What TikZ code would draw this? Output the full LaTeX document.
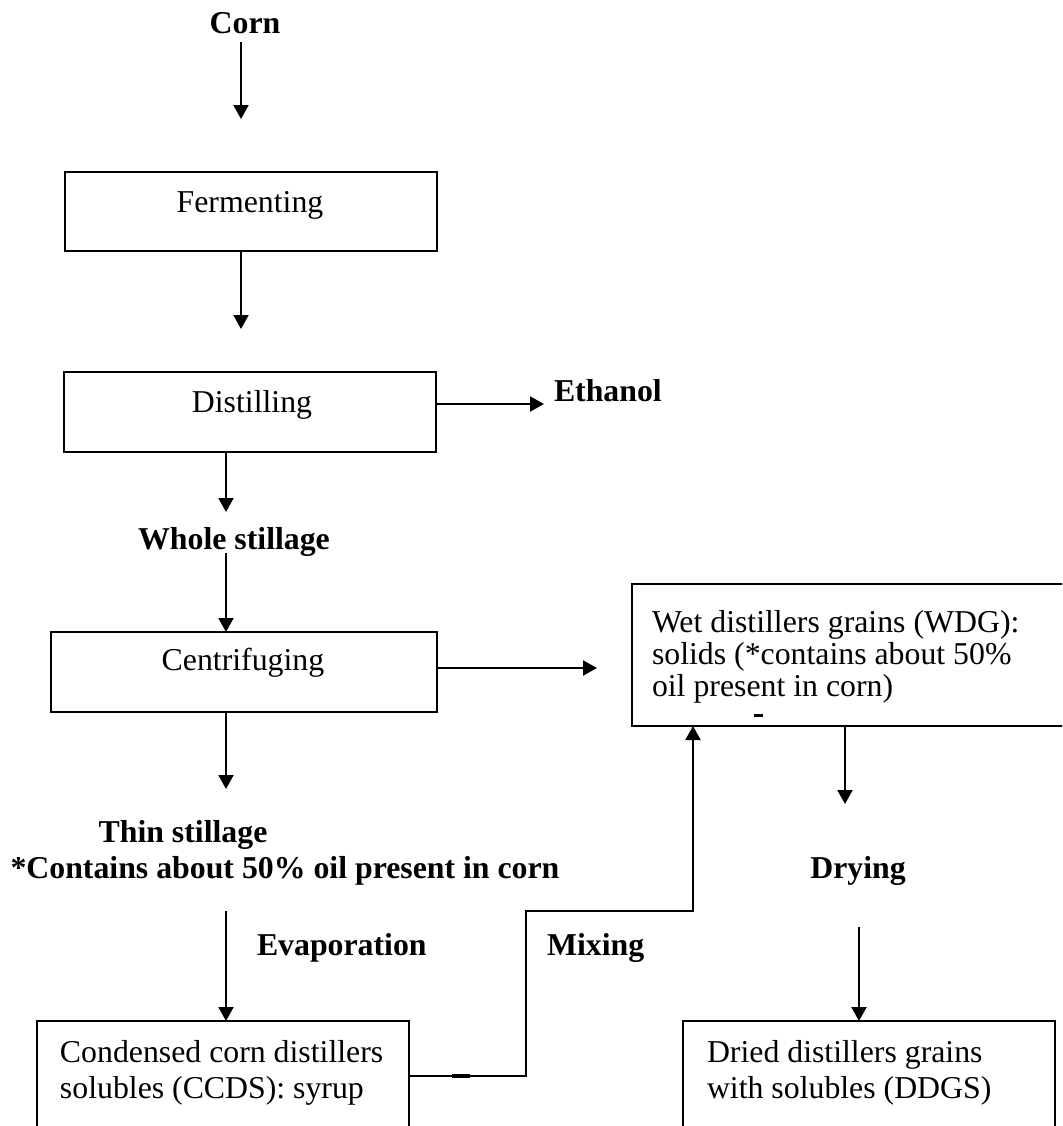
\documentclass[tikz,border=0pt]{standalone}
\usepackage{fontspec}
\setmainfont{Liberation Serif}
\usetikzlibrary{arrows.meta}
\tikzset{
  stepbox/.style={draw, line width=1pt, inner sep=0pt, outer sep=0pt, anchor=north west},
  txt/.style={inner sep=0pt, outer sep=0pt, font=\fontsize{15.9pt}{18pt}\selectfont},
  btxt/.style={inner sep=0pt, outer sep=0pt, font=\fontsize{15.9pt}{18pt}\selectfont\bfseries},
  arr/.style={line width=1pt, -{Triangle[length=7pt,width=7.5pt]}},
  ln/.style={line width=1pt},
}
\begin{document}
\begin{tikzpicture}[x=0.5pt,y=-0.5pt]
\useasboundingbox (0,0) rectangle (1062,1126);
\clip (0,0) rectangle (1062,1126);
\fill[white] (0,0) rectangle (1062,1126);

% labels
\node[btxt, anchor=base] (corn) at (245,33) {Corn};
\node[btxt, anchor=base west] (eth) at (554,401) {Ethanol};
\node[btxt, anchor=base] (whole) at (234,549) {Whole stillage};
\node[btxt, anchor=base] (thin) at (183,842) {Thin stillage};
\node[btxt, anchor=base] (oil) at (285,878) {*Contains about 50\% oil present in corn};
\node[btxt, anchor=base] (dry) at (858,878) {Drying};
\node[btxt, anchor=base west] (evap) at (257,955) {Evaporation};
\node[btxt, anchor=base west] (mix) at (547,955) {Mixing};

% boxes
\node[stepbox, minimum width=186pt, minimum height=39.5pt] (ferm) at (65,172) {};
\node[txt, anchor=base] (fermt) at (250,212) {Fermenting};
\node[stepbox, minimum width=186pt, minimum height=40pt] (dist) at (64,372) {};
\node[txt, anchor=base] (distt) at (252,412) {Distilling};
\node[stepbox, minimum width=193pt, minimum height=40pt] (cent) at (51,632) {};
\node[txt, anchor=base] (centt) at (243,670) {Centrifuging};
\node[stepbox, minimum width=222pt, minimum height=71pt] (wdg) at (632,584) {};
\node[txt, anchor=base west] (wdg1) at (652,632) {Wet distillers grains (WDG):};
\node[txt, anchor=base west] (wdg2) at (652,664) {solids (*contains about 50\%};
\node[txt, anchor=base west] (wdg3) at (652,696) {oil present in corn)};
\draw[line width=1.5pt] (754,715) -- (763,715);
\node[stepbox, minimum width=186pt, minimum height=60pt] (ccds) at (37,1021) {};
\node[txt, anchor=base west] (ccds1) at (60,1062) {Condensed corn distillers};
\node[txt, anchor=base west] (ccds2) at (60,1098) {solubles (CCDS): syrup};
\node[stepbox, minimum width=186pt, minimum height=60pt] (ddgs) at (683,1021) {};
\node[txt, anchor=base west] (ddgs1) at (707,1062) {Dried distillers grains};
\node[txt, anchor=base west] (ddgs2) at (707,1098) {with solubles (DDGS)};

% free ends
\coordinate (c1) at (241,42);
\coordinate (c2) at (241,119);
\coordinate (f1) at (241,329);
\coordinate (d1) at (226,512);
\coordinate (w1) at (226,553);
\coordinate (t1) at (226,789);
\coordinate (e1) at (226,911);
\coordinate (m1) at (526,1076);
\coordinate (m2) at (526,911);
\coordinate (m3) at (693,911);
\coordinate (r1) at (845,804);
\coordinate (r2) at (859,927);

% connectors
\draw[arr] (c1) -- (c2);
\draw[arr] (f1 |- ferm.south) -- (f1);
\draw[arr] ([yshift=4pt]dist.east) -- ++(108,0);
\draw[arr] (d1 |- dist.south) -- (d1);
\draw[arr] (w1) -- (w1 |- cent.north);
\draw[arr] ([yshift=2pt]cent.east) -- ++(160,0);
\draw[arr] (t1 |- cent.south) -- (t1);
\draw[arr] (e1) -- (e1 |- ccds.north);
\draw[arr] (ccds.east |- m1) -- (m1) -- (m2) -- (m3) -- (m3 |- wdg.south);
\draw[line width=1.6pt] (452,1076) -- (470,1076);
\draw[arr] (r1 |- wdg.south) -- (r1);
\draw[arr] (r2) -- (r2 |- ddgs.north);
\end{tikzpicture}
\end{document}
